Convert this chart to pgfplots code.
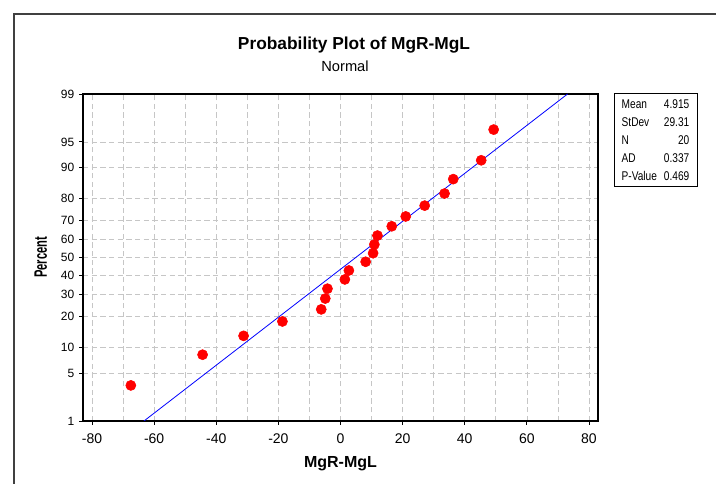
\documentclass[border=0pt]{standalone}
\usepackage{pgfplots}
\pgfplotsset{compat=1.18}
\usepackage{fontspec}
\setmainfont{Liberation Sans}
\newfontfamily\narrow[FakeStretch=0.8]{Liberation Sans}

% differences, sorted, with the normal score of the median rank (i-0.3)/(n+0.4)
\pgfplotstableread{
x      z
-67.5  -1.820
-44.4  -1.383
-31.2  -1.115
-18.7  -0.910
-6.2   -0.738
-4.9   -0.584
-4.2   -0.444
1.4    -0.312
2.7    -0.185
8.1    -0.061
10.5   0.061
10.9   0.185
11.9   0.312
16.5   0.444
21.0   0.584
27.1   0.738
33.5   0.910
36.3   1.115
45.3   1.383
49.3   1.820
}\pts

\begin{document}
\begin{tikzpicture}[x=0.75pt,y=0.75pt]
\path[use as bounding box] (0,0) rectangle (716,484);
\draw[line width=0.8pt, black!75] (14,0) -- (14,470) -- (716,470);

\node[font=\fontsize{13}{15}\selectfont\bfseries] at (354,439) {Probability Plot of MgR-MgL};
\node[font=\fontsize{11}{13}\selectfont] at (345,418) {Normal};

\begin{axis}[
    at={(62.25pt,47.25pt)}, anchor=south west,
    scale only axis, width=386.25pt, height=245.25pt,
    xmin=-82.9, xmax=82.9,
    ymin=-2.3263, ymax=2.3263,
    xtick={-80,-60,...,80},
    minor xtick={-70,-50,...,70},
    ytick={-2.3263,-1.6449,-1.2816,-0.8416,-0.5244,-0.2533,0,0.2533,0.5244,0.8416,1.2816,1.6449,2.3263},
    yticklabels={1,5,10,20,30,40,50,60,70,80,90,95,99},
    /pgf/number format/assume math mode=true,
    tick pos=left, tick align=outside,
    major tick length=3pt, minor tick length=0pt,
    tick style={black, line width=0.6pt},
    xticklabel style={font=\fontsize{10.5}{12}\selectfont, yshift=-3pt},
    yticklabel style={font=\fontsize{9}{10}\selectfont},
    grid=both,
    major grid style={gray!45, dash pattern=on 4pt off 2.5pt, line width=0.5pt},
    minor grid style={gray!45, dash pattern=on 4pt off 2.5pt, line width=0.5pt},
    axis line style={black, line width=0.8pt},
    xlabel={MgR-MgL},
    ylabel={\scalebox{0.62}[1]{\fontsize{13.5}{15}\selectfont Percent}},
    label style={font=\fontsize{12}{14}\selectfont\bfseries},
    xlabel style={yshift=-3pt},
    ylabel style={yshift=3.5pt},
    clip=true,
]
\addplot[blue, line width=0.6pt] coordinates {(-63.27,-2.3263) (73.10,2.3263)};
\addplot[only marks, mark=*, mark size=3.8pt, color=red, fill=red] table[x=x,y=z] {\pts};
\end{axis}

\draw[line width=0.6pt] (614,391) rectangle (697,298);
\begin{scope}[font=\narrow\fontsize{9.5}{11}\selectfont]
\node[anchor=west] at (617,380) {Mean};
\node[anchor=west] at (617,362) {StDev};
\node[anchor=west] at (617,344) {N};
\node[anchor=west] at (617,326) {AD};
\node[anchor=west] at (617,308) {P-Value};
\node[anchor=east] at (694,380) {4.915};
\node[anchor=east] at (694,362) {29.31};
\node[anchor=east] at (694,344) {20};
\node[anchor=east] at (694,326) {0.337};
\node[anchor=east] at (694,308) {0.469};
\end{scope}
\end{tikzpicture}
\end{document}
